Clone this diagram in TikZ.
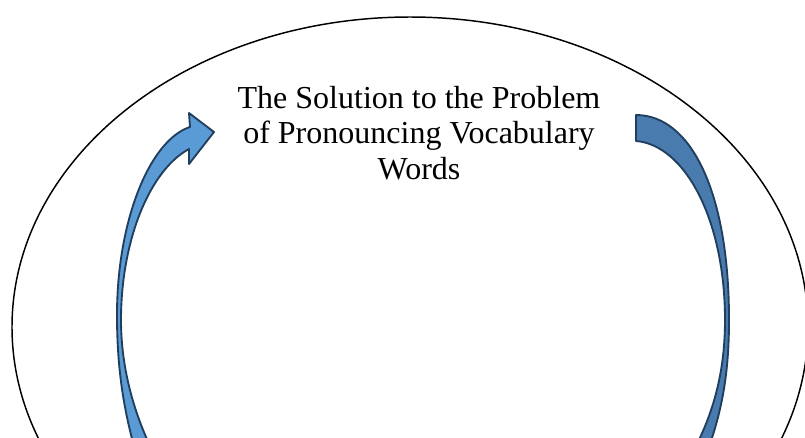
\documentclass[tikz,border=0pt]{standalone}
\usepackage{fontspec}
\setmainfont{Liberation Serif}
\definecolor{arrowlight}{HTML}{5B9BD5}
\definecolor{arrowdark}{HTML}{4A7BAF}
\definecolor{arrowline}{HTML}{203F5E}
\tikzset{
  arrowshape/.style={draw=arrowline, line width=1.4pt, line join=round},
  ring/.style={draw=black, line width=1.1pt},
  title/.style={align=center, font=\fontsize{24pt}{26.5pt}\selectfont, inner sep=0pt}
}
\begin{document}
\begin{tikzpicture}[x=0.75pt, y=-0.75pt]
\useasboundingbox (0,0) rectangle (805,437);
\begin{scope}
\clip (0,0) rectangle (805,437);
\draw[ring] (410,327) ellipse [x radius=298.5pt, y radius=232.5pt];
% left curved arrow (head at top)
\draw[arrowshape, fill=arrowlight] (189,149) -- (189,164) -- (214,132) -- (189,113) -- (190,127)
  .. controls (150,140) and (117,220) .. (117,315)
  .. controls (117,370) and (124,410) .. (135,450)
  -- (152,450)
  .. controls (135,415) and (121,370) .. (121,320)
  .. controls (121,240) and (150,170) .. (189,149)
  -- cycle;
% right curved arrow (tail at top)
\draw[arrowshape, fill=arrowdark] (636,141) -- (636,115)
  .. controls (690,115) and (729,190) .. (729,320)
  .. controls (729,380) and (720,415) .. (708,450)
  -- (694,450)
  .. controls (712,415) and (725,375) .. (725,320)
  .. controls (725,220) and (685,145) .. (636,141)
  -- cycle;
\end{scope}
\node[title, anchor=base] (t) at (419,179) {The Solution to the Problem\\of Pronouncing Vocabulary\\Words};
\end{tikzpicture}
\end{document}
